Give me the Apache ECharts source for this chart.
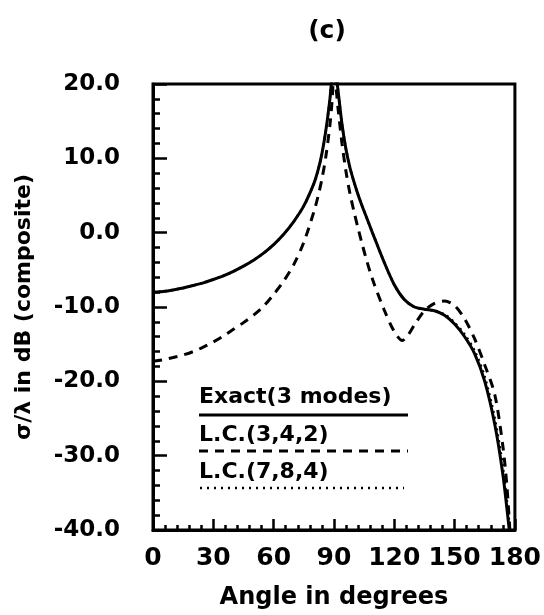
<!DOCTYPE html>
<html>
<head>
<meta charset="utf-8">
<script src="https://cdn.jsdelivr.net/npm/echarts@6/dist/echarts.min.js"></script>
<style>
html,body{margin:0;padding:0;background:#fff;}
#c{width:544px;height:615px;}
</style>
</head>
<body>
<div id="c"></div>
<script>
// ---- data ----
const exactAngles = [0,5,10,15,20,25,30,35,40,45,50,55,60,65,70,75,80,82,84,86,88,89,90,91,92,94,96,98,100,102,104,106,108,110,115,120,125,130,135,140,145,150,155,160,165,170,174,177,178];
const exactValues = [-8.0,-7.9,-7.7,-7.45,-7.1,-6.75,-6.3,-5.8,-5.2,-4.5,-3.7,-2.75,-1.6,-0.2,1.5,3.6,6.6,8.3,10.6,13.8,18.0,20.8,22,21.2,19.2,14.6,11.2,8.7,6.8,5.1,3.6,2.2,0.8,-0.6,-4.0,-7.0,-9.0,-10.0,-10.3,-10.5,-11.1,-12.3,-14.0,-16.3,-20.0,-25.8,-32.5,-39.5,-42];

const lc342Angles = [0,5,10,15,20,25,30,35,40,45,50,55,60,65,70,75,80,82,84,86,88,89,90,91,92,94,96,98,100,102,104,106,108,110,115,120,124,127,130,135,140,145,150,155,160,165,170,174,176,177.5,178];
const lc342Values = [-17.3,-17.1,-16.8,-16.45,-16.0,-15.4,-14.7,-13.9,-13.0,-12.1,-11.1,-9.9,-8.3,-6.5,-4.3,-1.3,2.8,4.8,7.2,10.3,14.5,17.5,21,19.5,16.8,12.0,8.2,5.2,2.8,0.6,-1.5,-3.5,-5.3,-6.9,-10.4,-13.3,-14.5,-13.7,-12.4,-10.5,-9.5,-9.2,-9.8,-11.6,-14.3,-17.8,-21.8,-28.7,-34,-40,-42];

const lc784Angles = [0,5,10,15,20,25,30,35,40,45,50,55,60,65,70,75,80,82,84,86,88,89,90,91,92,94,96,98,100,102,104,106,108,110,115,120,125,130,135,140,145,150,155,160,165,170,174,177,178];
const lc784Values = [-8.0,-7.9,-7.7,-7.45,-7.1,-6.75,-6.3,-5.8,-5.2,-4.5,-3.7,-2.75,-1.6,-0.2,1.5,3.6,6.6,8.3,10.6,13.8,18.0,20.8,22,21.2,19.2,14.6,11.2,8.7,6.8,5.1,3.6,2.2,0.8,-0.6,-4.0,-7.0,-9.0,-10.0,-10.3,-10.5,-11.0,-12.1,-13.7,-15.9,-19.4,-25.0,-31.5,-38.5,-41];

const xTicks = [0,30,60,90,120,150,180];
const yTicks = [-40,-30,-20,-10,0,10,20];
const legendNames = ['Exact(3 modes)','L.C.(3,4,2)','L.C.(7,8,4)'];
// --------------------------------------

function pairs(a, v){ return a.map((x,i)=>[x, v[i]]); }

const F = 'DejaVu Sans';
const chart = echarts.init(document.getElementById('c'), null, {renderer:'canvas'});

chart.setOption({
  animation:false,
  backgroundColor:'#fff',
  title:{
    text:'(c)', left:322, top:14, textAlign:'center',
    textStyle:{fontFamily:F, fontWeight:'bold', fontSize:25, color:'#000'}
  },
  grid:{left:153, right:29, top:84, bottom:84, show:true, borderColor:'#000', borderWidth:3, backgroundColor:'transparent'},
  xAxis:{
    type:'value', min:0, max:180, interval:30,
    axisLine:{show:true, onZero:false, lineStyle:{color:'#000', width:3}},
    splitLine:{show:false},
    axisTick:{show:true, inside:true, length:11, lineStyle:{color:'#000', width:2.5}},
    minorTick:{show:true, splitNumber:5, length:5, lineStyle:{color:'#000', width:2.5}},
    axisLabel:{margin:16, color:'#000', fontFamily:F, fontWeight:'bold', fontSize:25,
      formatter:v=> xTicks.includes(v) ? String(v) : ''},
    name:'Angle in degrees', nameLocation:'middle', nameGap:56,
    nameTextStyle:{fontFamily:F, fontWeight:'bold', fontSize:24, color:'#000'}
  },
  yAxis:{
    type:'value', min:-40, max:20, interval:10,
    axisLine:{show:true, onZero:false, lineStyle:{color:'#000', width:3}},
    splitLine:{show:false},
    axisTick:{show:true, inside:true, length:14, lineStyle:{color:'#000', width:2.5}},
    minorTick:{show:true, splitNumber:5, length:7, lineStyle:{color:'#000', width:2.5}},
    axisLabel:{margin:33, color:'#000', fontFamily:F, fontWeight:'bold', fontSize:23,
      formatter:v=> yTicks.includes(v) ? v.toFixed(1) : ''},
    name:'\u03C3/\u03BB in dB (composite)', nameLocation:'middle', nameGap:118,
    nameTextStyle:{fontFamily:F, fontWeight:'bold', fontSize:22, color:'#000'}
  },
  series:[
    {name:legendNames[2], type:'line', data:pairs(lc784Angles, lc784Values), smooth:0.3, symbol:'none', clip:true,
      lineStyle:{color:'#000', width:2.5, type:[2,4]}},
    {name:legendNames[1], type:'line', data:pairs(lc342Angles, lc342Values), smooth:0.3, symbol:'none', clip:true,
      lineStyle:{color:'#000', width:3, type:[9,7]}},
    {name:legendNames[0], type:'line', data:pairs(exactAngles, exactValues), smooth:0.3, symbol:'none', clip:true,
      lineStyle:{color:'#000', width:3, type:'solid'}}
  ],
  graphic:[
    {type:'text', left:199, top:386, style:{text:legendNames[0], fontFamily:F, fontWeight:'bold', fontSize:22, fill:'#000'}},
    {type:'line', shape:{x1:199, y1:415, x2:408, y2:415}, style:{stroke:'#000', lineWidth:3}},
    {type:'text', left:199, top:424, style:{text:legendNames[1], fontFamily:F, fontWeight:'bold', fontSize:22, fill:'#000'}},
    {type:'line', shape:{x1:199, y1:451, x2:408, y2:451}, style:{stroke:'#000', lineWidth:3, lineDash:[9,7]}},
    {type:'text', left:199, top:461, style:{text:legendNames[2], fontFamily:F, fontWeight:'bold', fontSize:22, fill:'#000'}},
    {type:'line', shape:{x1:200, y1:488, x2:404, y2:488}, style:{stroke:'#000', lineWidth:2.5, lineDash:[2,5]}}
  ]
});
</script>
</body>
</html>
